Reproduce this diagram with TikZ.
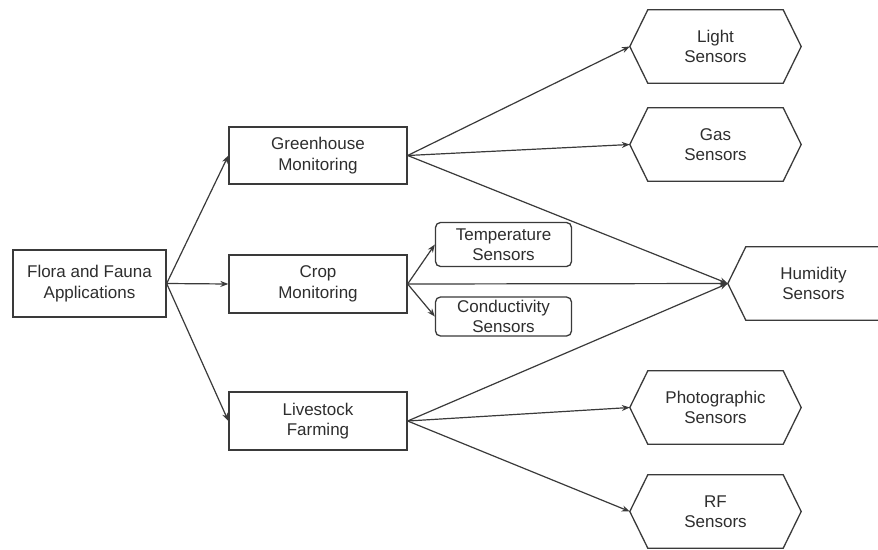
\documentclass[tikz,border=0pt]{standalone}
\usepackage{fontspec}
\setmainfont{Liberation Sans}
\usetikzlibrary{arrows.meta}
\definecolor{ink}{HTML}{3A3A3A}
\definecolor{txt}{HTML}{2E2E2E}
\tikzset{
  every node/.style={font=\fontsize{17}{20.5}\selectfont, text=txt, align=center, inner sep=0pt},
  box/.style={draw=ink, line width=1.3pt, fill=white},
  rbox/.style={box, rounded corners=5pt},
  hexbox/.style={minimum width=171pt, minimum height=73pt},
  link/.style={draw=ink, line width=1.2pt, -{Stealth[length=8pt,width=6pt]}},
}
\begin{document}
\begin{tikzpicture}[x=1pt,y=-1pt]
\useasboundingbox (0,0) rectangle (878,549);
\fill[white] (0,0) rectangle (878,549);

% root and the three application areas
\node[box, minimum width=153pt, minimum height=67pt] (flora) at (89.5,283.5) {Flora and Fauna\\Applications};
\node[box, minimum width=178pt, minimum height=57pt] (green) at (318,155.5) {Greenhouse\\Monitoring};
\node[box, minimum width=178pt, minimum height=58pt] (crop) at (318,284) {Crop\\Monitoring};
\node[box, minimum width=178pt, minimum height=58pt] (live) at (318,421) {Livestock\\Farming};

% small sensor boxes beside crop monitoring
\node[rbox, minimum width=136pt, minimum height=44pt] (temp) at (503.5,244.5) {Temperature\\Sensors};
\node[rbox, minimum width=136pt, minimum height=39pt] (cond) at (503.5,316.5) {Conductivity\\Sensors};

% hexagonal sensor nodes
\node[hexbox] (light) at (715.5,46.5) {Light\\Sensors};
\node[hexbox] (gas) at (715.5,144.5) {Gas\\Sensors};
\node[hexbox] (hum) at (813.5,283.5) {Humidity\\Sensors};
\node[hexbox] (photo) at (715.5,407.5) {Photographic\\Sensors};
\node[hexbox] (rf) at (715.5,511.5) {RF\\Sensors};
\foreach \n in {light,gas,hum,photo,rf}
  \draw[draw=ink, line width=1.3pt]
    (\n.west) -- ([xshift=18pt]\n.north west) -- ([xshift=-18pt]\n.north east)
    -- (\n.east) -- ([xshift=-18pt]\n.south east) -- ([xshift=18pt]\n.south west) -- cycle;

% connectors
\draw[link] (flora.east) -- (green.west);
\draw[link] (flora.east) -- (crop.west);
\draw[link] (flora.east) -- (live.west);

\draw[link] (green.east) -- (light.west);
\draw[link] (green.east) -- (gas.west);
\draw[link] (green.east) -- (hum.west);

\draw[link] (crop.east) -- (temp.west);
\draw[link] (crop.east) -- (cond.west);
\draw[link] (crop.east) -- (hum.west);

\draw[link] (live.east) -- (hum.west);
\draw[link] (live.east) -- (photo.west);
\draw[link] (live.east) -- (rf.west);
\end{tikzpicture}
\end{document}
